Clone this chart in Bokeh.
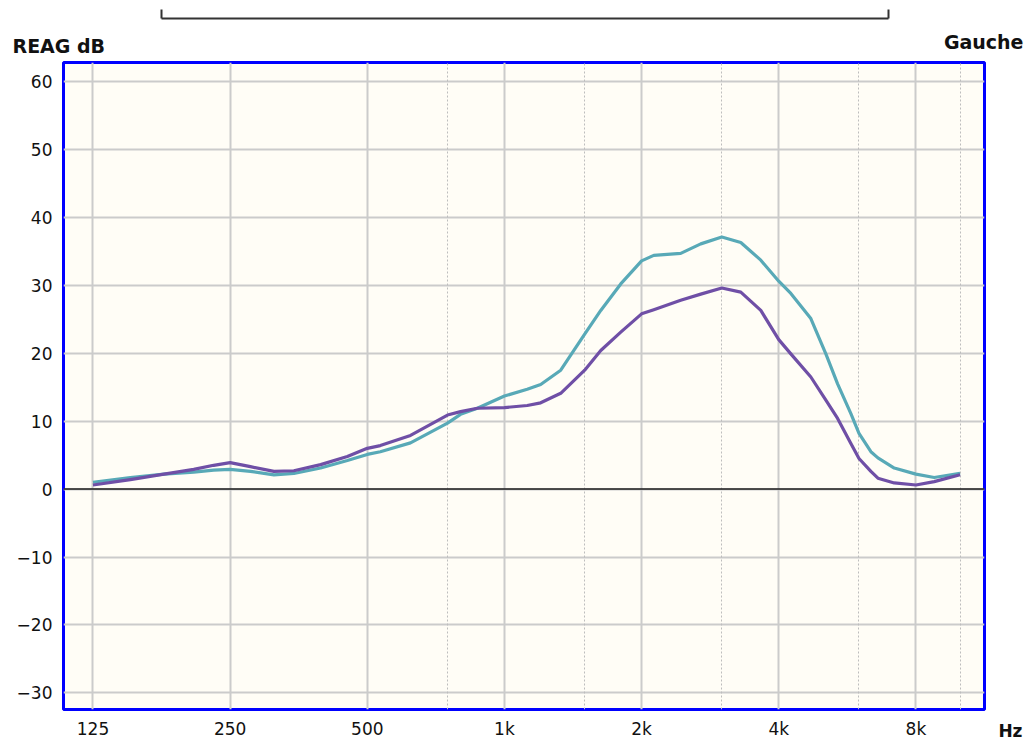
from bokeh.plotting import figure
from bokeh.models import Range1d, FixedTicker, Grid, Span, Label, LogAxis
from bokeh.embed import file_html
from bokeh.resources import INLINE

# ---- data ----
freqs = [125, 151, 179, 208, 230, 250, 277, 312, 345, 395,
         452, 500, 534, 622, 750, 801, 872, 1000, 1122, 1201,
         1329, 1500, 1627, 1800, 2000, 2127, 2437, 2697, 3000, 3302,
         3653, 4000, 4252, 4704, 5075, 5385, 5759, 6000, 6372, 6602,
         7170, 8000, 8776, 10000]
teal_db = [1.0, 1.7, 2.2, 2.5, 2.8, 2.9, 2.6, 2.1, 2.3, 3.1,
           4.2, 5.1, 5.5, 6.8, 9.7, 11.0, 11.9, 13.7, 14.7, 15.4,
           17.5, 22.8, 26.3, 30.2, 33.6, 34.4, 34.7, 36.1, 37.1, 36.3,
           33.7, 30.6, 28.8, 25.1, 19.9, 15.5, 11.1, 8.2, 5.5, 4.6,
           3.1, 2.2, 1.7, 2.3]
purple_db = [0.6, 1.4, 2.2, 2.9, 3.5, 3.9, 3.3, 2.6, 2.7, 3.6,
             4.8, 6.0, 6.4, 7.9, 10.9, 11.4, 11.9, 12.0, 12.3, 12.7,
             14.1, 17.5, 20.4, 23.1, 25.8, 26.4, 27.8, 28.7, 29.6, 29.0,
             26.3, 22.0, 19.9, 16.5, 13.1, 10.4, 6.7, 4.5, 2.6, 1.6,
             0.9, 0.6, 1.1, 2.1]

x_ticks = [125, 250, 500, 1000, 2000, 4000, 8000]
x_labels = ["125", "250", "500", "1k", "2k", "4k", "8k"]
x_minor = [750, 1500, 3000, 6000, 10000]
y_ticks = [-30, -20, -10, 0, 10, 20, 30, 40, 50, 60]
bracket_hz = [176.6, 6978]   # extent of the bracket drawn above the chart

FONT = "DejaVu Sans"

p = figure(width=1031, height=742, x_axis_type="log",
           x_range=Range1d(107.7, 11314), y_range=Range1d(-32.45, 62.8),
           output_backend="svg", toolbar_location=None,
           min_border_left=63, min_border_right=47, min_border_top=62,
           min_border_bottom=33)

p.background_fill_color = "#fffdf6"
p.border_fill_color = "white"
p.outline_line_color = "#0000ff"
p.outline_line_width = 3

# axes
p.xaxis.ticker = FixedTicker(ticks=x_ticks, minor_ticks=[])
p.xaxis.major_label_overrides = {t: l for t, l in zip(x_ticks, x_labels)}
p.yaxis.ticker = FixedTicker(ticks=y_ticks, minor_ticks=[])
for ax in (p.xaxis, p.yaxis):
    ax.axis_line_color = None
    ax.major_tick_line_color = None
    ax.minor_tick_line_color = None
    ax.major_label_text_font = FONT
    ax.major_label_text_font_size = "17px"
    ax.major_label_text_color = "#111111"
p.xaxis.major_label_standoff = 3
p.yaxis.major_label_standoff = 5

# grids
p.xgrid.ticker = FixedTicker(ticks=x_ticks)
p.ygrid.ticker = FixedTicker(ticks=y_ticks)
for g in (p.xgrid, p.ygrid):
    g.grid_line_color = "#cbcbcb"
    g.grid_line_width = 2
minor_grid = Grid(dimension=0, ticker=FixedTicker(ticks=x_minor),
                  grid_line_color="#bdbdbd", grid_line_width=1,
                  grid_line_dash="2 2")
p.add_layout(minor_grid)

p.add_layout(Span(location=0, dimension="width", line_color="#1a1a1a",
                  line_width=1.5))

# curves
p.line(freqs, teal_db, line_color="#58a9b7", line_width=3.2, line_join="round")
p.line(freqs, purple_db, line_color="#6f4fa6", line_width=3.2, line_join="round")

# titles (in side panels so they are not clipped to the frame)
p.add_layout(Label(x=-51, y=17, x_units="screen", y_units="screen", text="REAG dB",
                   text_font=FONT, text_font_style="bold", text_font_size="19px",
                   text_align="left", text_baseline="alphabetic", text_color="#111111"),
             "above")
p.add_layout(Label(x=960, y=-1, x_units="screen", y_units="screen", text="Gauche",
                   text_font=FONT, text_font_style="bold", text_font_size="19px",
                   text_align="right", text_baseline="alphabetic", text_color="#111111"),
             "above")
p.add_layout(Label(x=38, y=-21, x_units="screen", y_units="screen", text="Hz",
                   text_font=FONT, text_font_style="bold", text_font_size="17px",
                   text_align="right", text_baseline="alphabetic", text_color="#111111"),
             "right")

# bracket at the top: an unlabeled axis bounded to the bracket's extent
bracket = LogAxis(bounds=(bracket_hz[0], bracket_hz[1]),
                  ticker=FixedTicker(ticks=bracket_hz, minor_ticks=[]),
                  axis_line_color="#333333", axis_line_width=2,
                  major_tick_line_color="#333333", major_tick_line_width=2,
                  major_tick_out=9, major_tick_in=0,
                  minor_tick_line_color=None,
                  major_label_text_font_size="1px", major_label_text_alpha=0,
                  major_label_standoff=0,
                  major_label_overrides={bracket_hz[0]: "", bracket_hz[1]: ""})
p.add_layout(bracket, "above")

open("out.html", "w").write(file_html(p, INLINE))
